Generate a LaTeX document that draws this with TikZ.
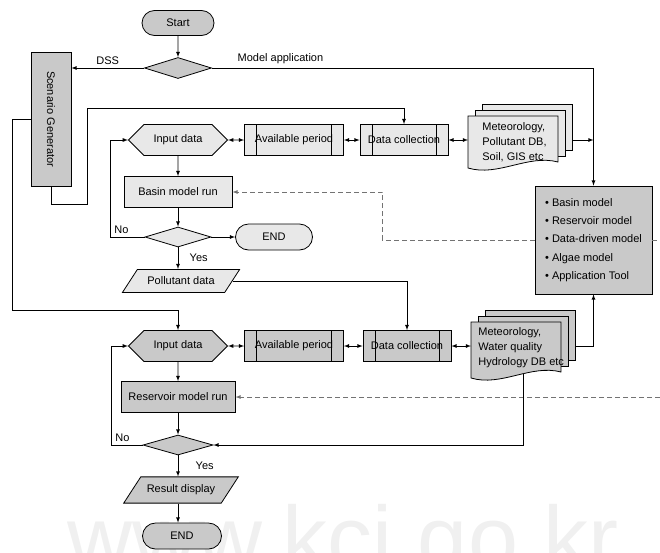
\documentclass[tikz,border=0pt]{standalone}
\usepackage{fontspec}
\setmainfont{Liberation Sans}
\usepackage{graphicx}
\usepackage{tikz}
\usetikzlibrary{arrows}
\usetikzlibrary{shapes,positioning,calc}

\definecolor{lightgr}{gray}{0.91}
\definecolor{darkgr}{gray}{0.79}
\definecolor{dashgr}{gray}{0.45}

% stack of three sheets: name, x, y (top left of front sheet), height, fill
\newcommand{\docstack}[5]{%
  \draw[fill=#5] ({#2+14},{#3-12}) rectangle ({#2+104},{#3+#4-18});
  \draw[fill=#5] ({#2+7},{#3-6}) rectangle ({#2+97},{#3+#4-12});
  \draw[fill=#5] (#2,#3) -- ({#2+90},#3) -- ({#2+90},{#3+#4-6})
    .. controls ({#2+60},{#3+#4-14}) and ({#2+30},{#3+#4+9}) .. (#2,{#3+#4}) -- cycle;
  \node[minimum width=90, minimum height=#4, inner sep=0, anchor=north west] (#1) at (#2,#3) {};
  \coordinate (#1-r) at ({#2+104},{#3+24});
  \coordinate (#1-b) at ({#2+52},{#3+#4-4});
}

\begin{document}
\begin{tikzpicture}[>=latex, x=1pt, y=-1pt, line width=0.8pt,
    every node/.style={font=\fontsize{11}{13}\selectfont},
    term/.style={rounded rectangle, draw, fill=#1, minimum width=72, minimum height=25, inner sep=0},
    decision/.style={diamond, draw, fill=#1, minimum width=67, minimum height=21, inner sep=0},
    inputbox/.style={signal, signal to=east and west, draw, fill=#1, minimum width=99, minimum height=31, inner sep=2},
    procbox/.style={rectangle, draw, fill=#1, minimum height=31, inner sep=1,
      path picture={
        \draw ([xshift=12]path picture bounding box.north west) -- ([xshift=12]path picture bounding box.south west);
        \draw ([xshift=-12]path picture bounding box.north east) -- ([xshift=-12]path picture bounding box.south east);}},
    runbox/.style={rectangle, draw, fill=#1, minimum height=31},
    databox/.style={trapezium, trapezium left angle=57, trapezium right angle=123, draw, fill=#1,
      inner ysep=7.5},
    sheettext/.style={align=left, anchor=west, inner sep=0, font=\fontsize{11}{15}\selectfont}]
  \useasboundingbox (0,0) rectangle (660,552);

  % watermark
  \begin{scope}
    \clip (0,0) rectangle (660,552);
    \node[text=black!6, font=\fontsize{90}{90}\selectfont, anchor=base] (wmark) at (343,569) {www.kci.go.kr};
  \end{scope}

  \node[term=darkgr] (start) at (178,23) {Start};
  \node[decision=darkgr] (dec1) at (178,68) {};
  \node[runbox=darkgr, minimum width=40, minimum height=134] (scen) at (51,119) {\rotatebox{-90}{Scenario Generator}};

  % basin part
  \node[inputbox=lightgr] (inA) at (178,140) {Input data};
  \node[procbox=lightgr, minimum width=99] (avA) at (294,140) {Available period};
  \node[procbox=lightgr, minimum width=88] (dcA) at (404,140) {Data collection};
  \docstack{metA}{468}{116}{52}{lightgr}
  \node[sheettext] (metAtxt) at (482,142) {Meteorology,\\Pollutant DB,\\Soil, GIS etc};
  \node[runbox=lightgr, minimum width=108] (runA) at (178,192) {Basin model run};
  \node[decision=lightgr, minimum width=66, minimum height=20] (dec2) at (178,237) {};
  \node[term=lightgr, minimum width=77, minimum height=26] (endA) at (274,237) {END};
  \node[databox=lightgr, inner xsep=10] (polA) at (181,281) {Pollutant data};

  \node[runbox=darkgr, minimum width=117, minimum height=108, align=left,
    font=\fontsize{11}{18.3}\selectfont] (model) at (593.5,240)
    {• Basin model\\• Reservoir model\\• Data-driven model\\• Algae model\\• Application Tool};

  % reservoir part
  \node[inputbox=darkgr] (inB) at (178,346) {Input data};
  \node[procbox=darkgr, minimum width=99] (avB) at (294,346) {Available period};
  \node[procbox=darkgr, minimum width=88] (dcB) at (407,346) {Data collection};
  \docstack{metB}{471}{322}{56}{darkgr}
  \node[sheettext] (metBtxt) at (478,348) {Meteorology,\\Water quality\\Hydrology DB etc};
  \node[runbox=darkgr, minimum width=114] (runB) at (178,397) {Reservoir model run};
  \node[decision=darkgr, minimum width=70, minimum height=20] (dec3) at (178,445) {};
  \node[databox=darkgr, inner ysep=8, inner xsep=6] (resB) at (181,490) {Result display};
  \node[term=darkgr, minimum width=79, minimum height=26] (endB) at (182,536) {END};

  \coordinate (edgeA) at (660,240);
  \coordinate (edgeB) at (660,397);

  \draw[->] (start) -- (dec1);
  \draw[->] (dec1) -- node[above] {DSS} (scen.east |- dec1);
  \draw[->] (dec1.east) node[above right, xshift=22] {Model application} -| (model.north);
  \draw[->] (metA-r) -- (metA-r -| model.north);
  \draw[->] (scen.south) -- ++(0,18) -| ++(36,-96) -| (dcA.north);
  \draw[->] (scen.west) -- ++(-18,0) |- ($(inB.north)+(0,-20)$) -- (inB.north);

  \draw[<->] (inA) -- (avA);
  \draw[<->] (avA) -- (dcA);
  \draw[<->] (dcA.east) -- (dcA.east -| metA.west);
  \draw[->] (inA) -- (runA);
  \draw[->] (runA) -- (dec2);
  \draw[->] (dec2) -- (endA);
  \draw[->] (dec2.west) -- ++(-34,0) node[above right] {No} |- (inA.west);
  \draw[->] (dec2.south) -- node[right, xshift=8] {Yes} (dec2.south |- polA.north);
  \draw[->] (polA.east) -| (dcB.north);
  \draw[dashed, dash pattern=on 5pt off 3pt, draw=dashgr, ->] (model.west) -- ++(-152,0) |- (runA.east);
  \draw[dashed, dash pattern=on 5pt off 3pt, draw=dashgr] (model.east) -- (edgeA);

  \draw[<->] (inB) -- (avB);
  \draw[<->] (avB) -- (dcB);
  \draw[<->] (dcB.east) -- (dcB.east -| metB.west);
  \draw[->] (metB-r) -| (model.south);
  \draw[->] (inB) -- (runB);
  \draw[->] (runB) -- (dec3);
  \draw[dashed, dash pattern=on 5pt off 3pt, draw=dashgr, ->] (edgeB) -- (runB.east);
  \draw[->] (metB-b) |- (dec3.east);
  \draw[->] (dec3.west) -- ++(-31,0) node[above right] {No} |- (inB.west);
  \draw[->] (dec3.south) -- node[right, xshift=14] {Yes} (dec3.south |- resB.north);
  \draw[->] (dec3.south |- resB.south) -- (dec3.south |- endB.north);
\end{tikzpicture}
\end{document}
